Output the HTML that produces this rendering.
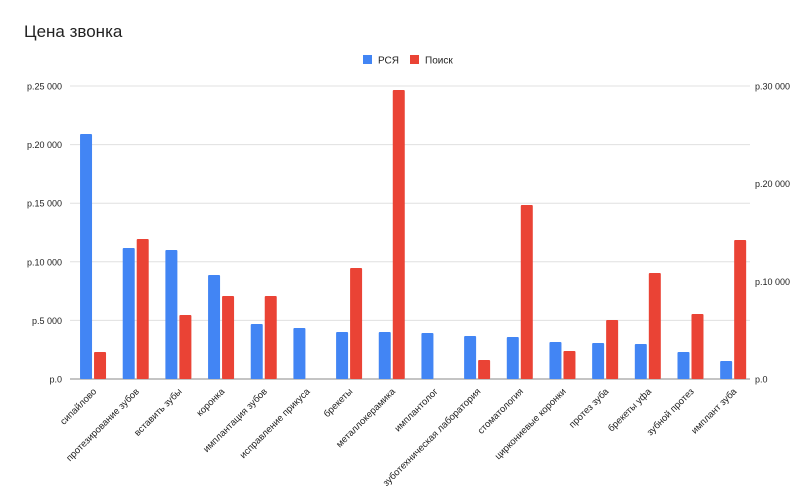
<!DOCTYPE html>
<html><head><meta charset="utf-8"><style>
body{margin:0;background:#fff;font-family:"Liberation Sans","Noto Sans CJK SC",sans-serif}
svg text{font-family:"Liberation Sans","Noto Sans CJK SC",sans-serif}
</style></head><body>
<svg id="chart" width="807" height="495">
<text x="24" y="37" font-size="17" fill="#222">Цена звонка</text>
<g>
<rect x="363" y="55" width="9" height="9" fill="#4285f4"/>
<text x="378" y="63.5" font-size="10" fill="#222">РСЯ</text>
<rect x="410" y="55" width="9" height="9" fill="#ea4335"/>
<text x="425" y="63.5" font-size="10" fill="#222">Поиск</text>
</g>
<g id="grid"></g><g id="bars"></g><g id="labels"></g>
</svg>
<script>
const categories=["сипайлово","протезирование зубов","вставить зубы","коронка","имплантация зубов","исправление прикуса","брекеты","металлокерамика","имплантолог","зуботехническая лаборатория","стоматология","циркониевые коронки","протез зуба","брекеты уфа","зубной протез","имплант зуба"];
const rsya=[20900,11180,11010,8870,4690,4350,4010,4010,3930,3670,3580,3160,3070,2990,2300,1540];
const poisk=[2760,14330,6550,8500,8500,0,11360,29590,0,1950,17820,2870,6040,10850,6660,14230];
const leftTicks=[0,5000,10000,15000,20000,25000];
const leftTickLabels=["р.0","р.5 000","р.10 000","р.15 000","р.20 000","р.25 000"];
const rightTicks=[0,10000,20000,30000];
const rightTickLabels=["р.0","р.10 000","р.20 000","р.30 000"];
const NS="http://www.w3.org/2000/svg";
const x0=71.7,x1=754.5,gx1=750,yBase=379,yTop=86;
const yL=v=>yBase-(v/25000)*(yBase-yTop);
const yR=v=>yBase-(v/30000)*(yBase-yTop);
const bw=(x1-x0)/categories.length;
const cx=i=>x0+bw*(i+0.5);
function mk(t,a,p){const e=document.createElementNS(NS,t);for(const k in a)e.setAttribute(k,a[k]);p.appendChild(e);return e;}
const grid=document.getElementById('grid'),bars=document.getElementById('bars'),labels=document.getElementById('labels');
leftTicks.forEach((v,i)=>{
 if(v>0){const l=mk('line',{x1:70,x2:gx1,y1:yL(v),y2:yL(v),stroke:'#e0e0e0','stroke-width':1},grid);
 
 }
 const t=mk('text',{x:62,y:yL(v)+3.5,'text-anchor':'end','font-size':9,fill:'#222'},grid);t.textContent=leftTickLabels[i];
 
 
});
rightTicks.forEach((v,i)=>{
 const t=mk('text',{x:755,y:yR(v)+3.5,'font-size':9,fill:'#222'},grid);t.textContent=rightTickLabels[i];
 
 
});
const ax=mk('line',{x1:70,x2:gx1,y1:yBase,y2:yBase,stroke:'#888','stroke-width':1},grid);


categories.forEach((c,i)=>{
 const c0=cx(i);
 if(rsya[i]>0){const r=mk('rect',{x:c0-13,y:yL(rsya[i]),width:12,height:yBase-yL(rsya[i]),fill:'#4285f4',rx:1},bars);
 
 }
 if(poisk[i]>0){const r=mk('rect',{x:c0+1,y:yR(poisk[i]),width:12,height:yBase-yR(poisk[i]),fill:'#ea4335',rx:1},bars);
 
 }
 const t=mk('text',{x:0,y:0,'text-anchor':'end','font-size':9.5,fill:'#222',transform:`translate(${c0+4},${yBase+13}) rotate(-45)`},labels);
 t.textContent=c;
 
 
});
</script>
</body></html>
